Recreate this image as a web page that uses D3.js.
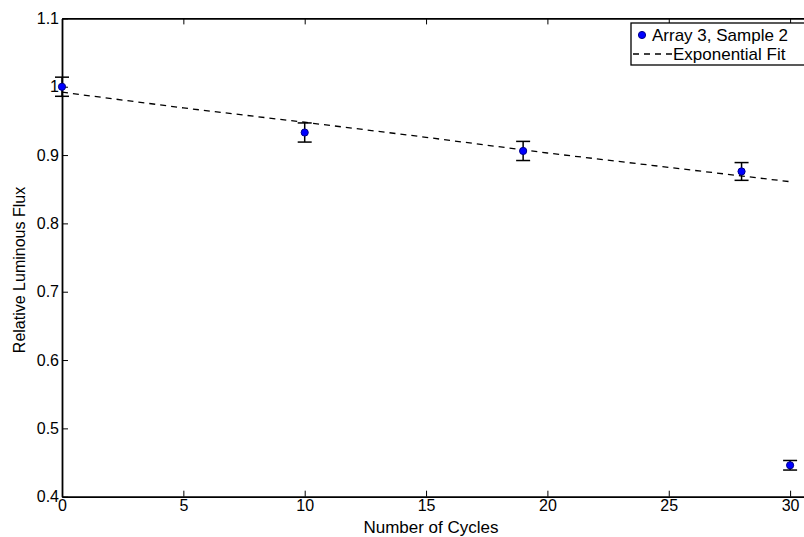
<!DOCTYPE html>
<html>
<head>
<meta charset="utf-8">
<script src="https://cdn.jsdelivr.net/npm/d3@7"></script>
<style>
	body { margin: 0; background: #fff; overflow: hidden; }
	text { font-family: "Liberation Sans", Arial, sans-serif; }
</style>
</head>
<body>
<div id="chart"></div>
<script>
// measured points
var cycles = [0, 10, 19, 28, 30];
var flux = [1.000, 0.933, 0.906, 0.876, 0.446];
var fluxErr = [0.014, 0.014, 0.014, 0.013, 0.007];

// dashed fit curve
var fitCycles = [0, 5, 10, 15, 20, 25, 30];
var fitFlux = [0.992, 0.969, 0.948, 0.926, 0.903, 0.882, 0.861];

var xTicks = [0, 5, 10, 15, 20, 25, 30];
var yTicks = [0.4, 0.5, 0.6, 0.7, 0.8, 0.9, 1.0, 1.1];

var legendLabels = ["Array 3, Sample 2", "Exponential Fit"];

var width = 804, height = 537;
var margin = {top: 18.4, left: 62, bottom: 40.3};
var fontSize = "16px";

var svg = d3.select("#chart").append("svg")
	.attr("width", width)
	.attr("height", height);

// the axes box runs past the right edge of the window
var x = d3.scaleLinear()
	.domain([0, 35])
	.range([margin.left, margin.left + 35 * 24.27]);

var y = d3.scaleLinear()
	.domain([0.4, 1.1])
	.range([height - margin.bottom, margin.top]);

var x0 = x.range()[0], x1 = x.range()[1];
var y0 = y.range()[0], y1 = y.range()[1];

var tickLen = 6;

// axes: bottom + left with labels, top + right as box
var bottomAxis = svg.append("g")
	.attr("transform", "translate(0," + y0 + ")")
	.call(d3.axisBottom(x).tickValues(xTicks).tickSizeInner(-tickLen).tickSizeOuter(0).tickPadding(3)
		.tickFormat(d3.format("d")));

var leftAxis = svg.append("g")
	.attr("transform", "translate(" + x0 + ",0)")
	.call(d3.axisLeft(y).tickValues(yTicks).tickSizeInner(-tickLen).tickSizeOuter(0).tickPadding(3)
		.tickFormat(function(d){ return d === 1 ? "1" : d3.format(".1f")(d); }));

var topAxis = svg.append("g")
	.attr("transform", "translate(0," + y1 + ")")
	.call(d3.axisTop(x).tickValues(xTicks).tickSizeInner(-tickLen).tickSizeOuter(0).tickFormat(""));

var rightAxis = svg.append("g")
	.attr("transform", "translate(" + x1 + ",0)")
	.call(d3.axisRight(y).tickValues(yTicks).tickSizeInner(-tickLen).tickSizeOuter(0).tickFormat(""));

[bottomAxis, leftAxis, topAxis, rightAxis].forEach(function(g){
	g.select(".domain").attr("stroke", "#000").attr("stroke-width", 1.8);
	g.selectAll(".tick line").attr("stroke", "#000").attr("stroke-width", 1);
	g.selectAll(".tick text")
		.attr("fill", "#000")
		.style("font-size", fontSize)
		.style("font-family", "'Liberation Sans', Arial, sans-serif");
});

// fit line
var line = d3.line()
	.x(function(d){ return x(d[0]); })
	.y(function(d){ return y(d[1]); });

svg.append("path")
	.datum(d3.zip(fitCycles, fitFlux))
	.attr("d", line)
	.attr("fill", "none")
	.attr("stroke", "#000")
	.attr("stroke-width", 1.3)
	.attr("stroke-dasharray", "6,5");

// error bars
var points = cycles.map(function(c, i){
	return {x: c, y: flux[i], e: fluxErr[i]};
});

var capW = 7;
var bars = svg.append("g")
		.selectAll("g")
		.data(points)
	.enter().append("g")
		.attr("stroke", "#000")
		.attr("stroke-width", 1.5);

bars.append("line")
	.attr("x1", function(d){ return x(d.x); })
	.attr("x2", function(d){ return x(d.x); })
	.attr("y1", function(d){ return y(d.y - d.e); })
	.attr("y2", function(d){ return y(d.y + d.e); });

bars.append("line")
	.attr("x1", function(d){ return x(d.x) - capW; })
	.attr("x2", function(d){ return x(d.x) + capW; })
	.attr("y1", function(d){ return y(d.y - d.e); })
	.attr("y2", function(d){ return y(d.y - d.e); });

bars.append("line")
	.attr("x1", function(d){ return x(d.x) - capW; })
	.attr("x2", function(d){ return x(d.x) + capW; })
	.attr("y1", function(d){ return y(d.y + d.e); })
	.attr("y2", function(d){ return y(d.y + d.e); });

// markers
svg.append("g")
		.selectAll("circle")
		.data(points)
	.enter().append("circle")
		.attr("cx", function(d){ return x(d.x); })
		.attr("cy", function(d){ return y(d.y); })
		.attr("r", 3.6)
		.attr("fill", "#0000ff")
		.attr("stroke", "#00008b")
		.attr("stroke-width", 1);

// axis labels
svg.append("text")
	.attr("x", 431)
	.attr("y", 533)
	.attr("text-anchor", "middle")
	.style("font-size", "17px")
	.text("Number of Cycles");

svg.append("text")
	.attr("transform", "translate(25,270) rotate(-90)")
	.attr("text-anchor", "middle")
	.style("font-size", fontSize)
	.text("Relative Luminous Flux");

// legend
var legend = svg.append("g")
	.attr("transform", "translate(631,23)");

legend.append("rect")
	.attr("width", 200)
	.attr("height", 42)
	.attr("fill", "#fff")
	.attr("stroke", "#000")
	.attr("stroke-width", 1.3);

legend.append("circle")
	.attr("cx", 11)
	.attr("cy", 12)
	.attr("r", 3.6)
	.attr("fill", "#0000ff")
	.attr("stroke", "#00008b");

legend.append("line")
	.attr("x1", 2)
	.attr("x2", 41)
	.attr("y1", 31)
	.attr("y2", 31)
	.attr("stroke", "#000")
	.attr("stroke-width", 1.3)
	.attr("stroke-dasharray", "6,5");

legend.selectAll("text.label")
		.data(legendLabels)
	.enter().append("text")
		.attr("class", "label")
		.attr("x", function(d, i){ return i === 0 ? 21 : 42; })
		.attr("y", function(d, i){ return 17.5 + i * 19; })
		.style("font-size", "17px")
		.text(function(d){ return d; });
</script>
</body>
</html>
